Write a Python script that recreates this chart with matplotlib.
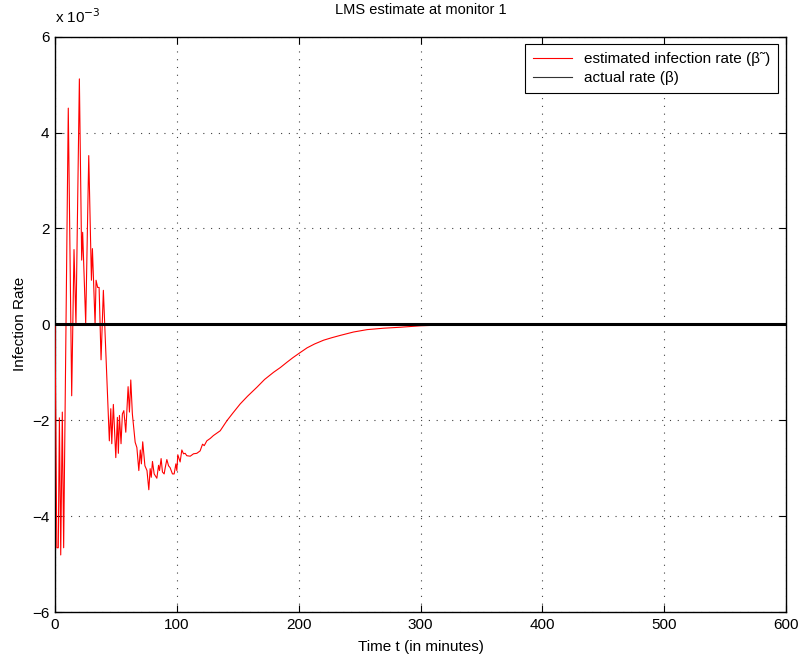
import matplotlib
matplotlib.use("Agg")
import matplotlib.pyplot as plt
from matplotlib.lines import Line2D
from matplotlib.ticker import FuncFormatter
import numpy as np

plt.rcParams['font.family'] = ['Liberation Sans', 'DejaVu Sans']

# Estimated infection rate, values in units of 1e-3
est_t = [0, 1.5, 2.7, 3.6, 4.7, 6.0, 7.1, 10.9, 13.7, 15.6, 17.2, 20.0, 21.9, 22.7,
         25.2, 27.7, 29.9, 30.7, 32.9, 33.7, 35.0, 36.2, 37.8, 39.7, 44.6, 45.8,
         46.6, 47.9, 49.9, 51.2, 52.0, 52.9, 54.2, 55.3, 56.5, 58.1, 60.0, 61.1,
         62.2, 63.5, 65.8, 67.2, 68.8, 70.0, 70.9, 72.0, 73.8, 75.5, 77.0, 78.1,
         79.0, 80.0, 81.4, 83.6, 85.0, 85.8, 87.1, 88.2, 89.6, 90.4, 91.8, 93.2,
         94.5, 96.4, 97.8, 99.2, 100.0, 100.8, 102.7, 104.1, 105.5, 106.8, 108.2,
         111.0, 113.7, 116.4, 119.1, 121.1, 122.5, 124.6, 127.4, 130.0, 135.6,
         141.1, 146.0, 152.0, 158.0, 165.8, 172.0, 179.4, 185.0, 190.4, 195.0,
         200.0, 206.9, 213.0, 220.5, 227.0, 234.2, 245.0, 256.2, 270.0, 283.6,
         300.0, 322.0, 350.0, 400.0, 500.0, 600.0]
est_v = [0.0, -4.66, -4.66, -1.95, -4.81, -1.83, -4.66, 4.51, -1.49, 1.56, 0.0, 5.12,
         1.34, 1.92, 0.02, 3.52, 0.92, 1.58, 0.0, 0.92, 0.77, 0.77, -0.74, 0.71,
         -2.43, -1.76, -2.49, -1.67, -2.78, -1.94, -2.69, -1.90, -2.49, -1.87,
         -1.80, -2.25, -1.30, -1.83, -1.16, -1.87, -2.46, -2.57, -3.05, -2.62,
         -2.91, -2.45, -2.95, -3.05, -3.45, -3.01, -3.19, -2.86, -3.12, -3.21,
         -2.94, -3.05, -2.80, -3.08, -3.12, -3.00, -2.82, -2.95, -2.99, -3.12,
         -3.12, -2.91, -3.05, -2.72, -2.87, -2.62, -2.70, -2.69, -2.74, -2.75,
         -2.70, -2.69, -2.64, -2.50, -2.53, -2.43, -2.38, -2.32, -2.22,
         -2.01, -1.85, -1.66, -1.50, -1.31, -1.15, -1.00, -0.90, -0.79, -0.70,
         -0.61, -0.49, -0.41, -0.33, -0.28, -0.23, -0.16, -0.11, -0.08, -0.06,
         -0.03, -0.01, 0.0, 0.0, 0.0, 0.0]

# Actual rate
act_t = [0, 600]
act_v = [0.0, 0.0]

scale = 1e-3
xticks = [0, 100, 200, 300, 400, 500, 600]
yticks = [-6, -4, -2, 0, 2, 4, 6]

fig = plt.figure(figsize=(8.0, 6.61), dpi=100)
ax = fig.add_axes([55/800, 1-612/661, (786-55)/800, (612-36.7)/661])

ax.plot(est_t, np.array(est_v) * scale, color='red', lw=0.8, zorder=3)
ax.plot(act_t, np.array(act_v) * scale, color='black', lw=2.2, zorder=4)

ax.set_xlim(0, 600)
ax.set_ylim(-6 * scale, 6 * scale)
ax.set_xticks(xticks)
ax.set_yticks(np.array(yticks) * scale)
ax.yaxis.set_major_formatter(FuncFormatter(
    lambda v, p: f"{v/scale:.0f}".replace('-', '\u2212')))
ax.xaxis.set_major_formatter(FuncFormatter(lambda v, p: f"{v:.0f}"))
ax.grid(True, linestyle=(0, (1, 6)), color='black', lw=0.8, alpha=0.75)
ax.tick_params(direction='in', length=5, labelsize=11, top=True, right=True,
               width=0.8, pad=4)
for s in ax.spines.values():
    s.set_linewidth(1.0)

ax.text(0.0, 1.018, 'x 10$^{\u22123}$', transform=ax.transAxes, fontsize=11,
        ha='left', va='bottom')
ax.set_title('LMS estimate at monitor 1', fontsize=10.5, pad=16)
ax.set_xlabel('Time t (in minutes)', fontsize=11, labelpad=6)
ax.set_ylabel('Infection Rate', fontsize=11, labelpad=4)

handles = [Line2D([], [], color='red', lw=0.8),
           Line2D([], [], color='#333333', lw=0.8)]
leg = ax.legend(handles, ['estimated infection rate (\u03b2\u02dc)', 'actual rate (\u03b2)'],
                loc='upper right', fontsize=11, fancybox=False, framealpha=1,
                edgecolor='black', borderpad=0.5, labelspacing=0.35,
                handlelength=2.6, borderaxespad=0.5)
leg.get_frame().set_linewidth(0.8)

fig.savefig('out.png', dpi=100)
